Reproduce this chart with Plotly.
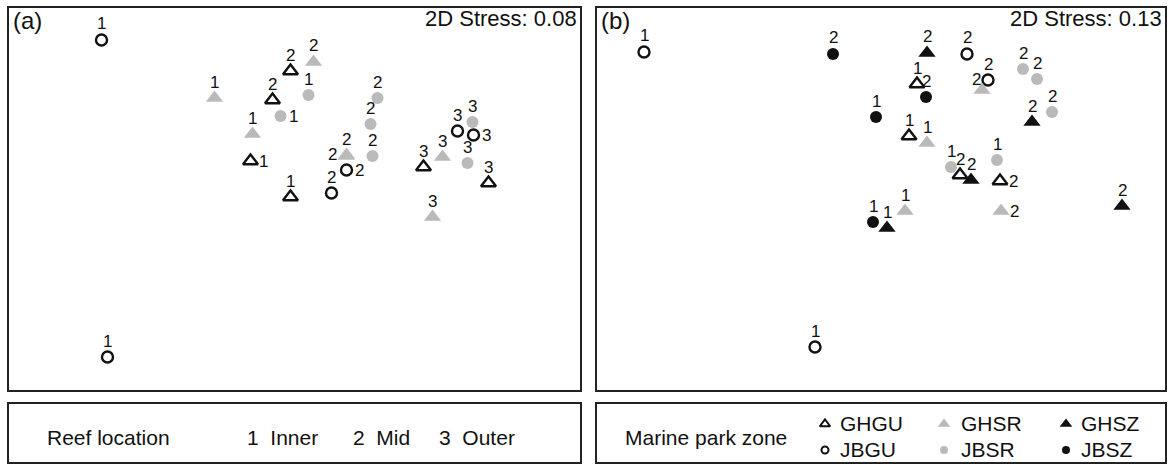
import plotly.graph_objects as go

# ---- nMDS ordination coordinates, panel (a): reef location ----
a_zone = ["JBGU", "JBGU", "GHSR", "GHGU", "GHGU", "JBSR", "GHSR", "GHGU", "GHGU",
          "GHSR", "JBSR", "JBSR", "JBSR", "JBSR", "GHSR", "GHSR", "JBGU", "JBGU",
          "JBSR", "JBGU", "JBGU", "GHSR", "JBSR", "GHGU", "GHGU", "GHSR"]
a_label = ["1", "1", "1", "2", "2", "1", "1", "1", "1",
           "2", "1", "2", "2", "2", "2", "2", "2", "2",
           "3", "3", "3", "3", "3", "3", "3", "3"]
a_x = [-1.93, -1.87, -0.80, -0.04, -0.22, -0.14, -0.42, -0.44, -0.04,
       0.19, 0.14, 0.83, 0.76, 0.78, 0.52, 0.52, 0.52, 0.37,
       1.78, 1.63, 1.79, 1.48, 1.73, 1.29, 1.94, 1.38]
a_y = [1.59, -1.58, 1.01, 1.28, 0.99, 0.83, 0.65, 0.38, 0.02,
       1.37, 1.04, 1.01, 0.75, 0.43, 0.44, 0.43, 0.29, 0.06,
       0.77, 0.68, 0.64, 0.42, 0.36, 0.32, 0.16, -0.18]
a_labelpos = ["top", "top", "top", "top", "top", "right", "top", "right", "top",
              "top", "top", "top", "top", "top", "top", "left", "right", "top",
              "top", "top", "right", "top", "top", "top", "top", "top"]
a_stress = 0.08

# ---- nMDS ordination coordinates, panel (b): marine park zone ----
b_zone = ["JBGU", "JBSZ", "GHSZ", "JBGU", "GHGU", "JBSZ", "JBGU", "GHSR", "JBSR",
          "JBSR", "JBSR", "GHSZ", "JBSZ", "GHGU", "GHSR", "JBSR", "JBSR", "GHGU",
          "GHSZ", "GHGU", "GHSR", "GHSZ", "GHSR", "JBSZ", "GHSZ", "JBGU"]
b_label = ["1", "2", "2", "2", "1", "2", "2", "2", "2",
           "2", "2", "2", "1", "1", "1", "1", "1", "2",
           "2", "2", "2", "2", "1", "1", "1", "1"]
b_x = [-2.37, -0.48, 0.46, 0.86, 0.36, 0.45, 1.07, 1.01, 1.42,
       1.56, 1.71, 1.51, -0.05, 0.28, 0.46, 1.16, 0.70, 0.79,
       0.90, 1.19, 1.20, 2.41, 0.24, -0.08, 0.06, -0.66]
b_y = [1.47, 1.45, 1.46, 1.45, 1.15, 1.02, 1.19, 1.09, 1.30,
       1.20, 0.87, 0.77, 0.82, 0.63, 0.56, 0.39, 0.32, 0.24,
       0.19, 0.18, -0.12, -0.07, -0.12, -0.23, -0.29, -1.48]
b_labelpos = ["top", "top", "top", "top", "top", "top", "top", "topleft", "top",
              "top", "top", "top", "top", "top", "top", "top", "top", "top",
              "top", "right", "right", "top", "top", "top", "top", "top"]
b_stress = 0.13

reef_names = ["Inner", "Mid", "Outer"]
zone_rows = [["GHGU", "GHSR", "GHSZ"], ["JBGU", "JBSR", "JBSZ"]]

# ---- styling ----
FONT = "Liberation Sans, Arial, sans-serif"
GREY = "#bababa"
INK = "#111111"
W, H = 1170, 464

zone_style = {
    "GHGU": dict(symbol="triangle-up-open", color=INK, size=13, lw=2.4),
    "JBGU": dict(symbol="circle-open", color=INK, size=11, lw=2.4),
    "GHSR": dict(symbol="triangle-up", color=GREY, size=15, lw=0),
    "JBSR": dict(symbol="circle", color=GREY, size=12, lw=0),
    "GHSZ": dict(symbol="triangle-up", color=INK, size=15, lw=0),
    "JBSZ": dict(symbol="circle", color=INK, size=12, lw=0),
}

# label offsets (pixels) relative to the marker centre
label_shift = {"top": (0, 16), "right": (13, 0), "left": (-14, 2), "topleft": (-6, 11)}

# pixel frame of each panel (left, top, right, bottom)
panel_a = (8, 7, 581, 391)
panel_b = (596, 7, 1166, 391)
leg_a = (8, 403, 581, 463)
leg_b = (596, 403, 1166, 463)


def px(x):
    return x / W


def py(y):
    return 1 - y / H


fig = go.Figure()
ann = []


def add_panel(zones, labels, xs, ys, lpos, xa, ya):
    for z in zone_style:
        idx = [i for i, zz in enumerate(zones) if zz == z]
        if not idx:
            continue
        st = zone_style[z]
        fig.add_trace(go.Scatter(
            x=[xs[i] for i in idx], y=[ys[i] for i in idx],
            mode="markers",
            marker=dict(symbol=st["symbol"], size=st["size"], color=st["color"],
                        line=dict(width=st["lw"], color=st["color"])),
            xaxis=xa, yaxis=ya, showlegend=False, hoverinfo="skip", cliponaxis=False,
        ))
    # reef-location number beside every sample
    for xv, yv, lab, pos in zip(xs, ys, labels, lpos):
        dx, dy = label_shift[pos]
        ann.append(dict(x=xv, y=yv, xref=xa, yref=ya, text=lab, showarrow=False,
                        xanchor="center", yanchor="middle", xshift=dx, yshift=dy,
                        font=dict(family=FONT, size=17, color=INK)))


add_panel(a_zone, a_label, a_x, a_y, a_labelpos, "x", "y")
add_panel(b_zone, b_label, b_x, b_y, b_labelpos, "x2", "y2")

# legend symbols for the marine park zones, drawn on a pixel-space overlay axis
sym_cols = [825, 944, 1066]
sym_rows = [424, 450]
for r, row in enumerate(zone_rows):
    for c, z in enumerate(row):
        st = zone_style[z]
        fig.add_trace(go.Scatter(
            x=[sym_cols[c]], y=[sym_rows[r]], mode="markers",
            marker=dict(symbol=st["symbol"], size=st["size"] - 4, color=st["color"],
                        line=dict(width=min(st["lw"], 2), color=st["color"])),
            xaxis="x3", yaxis="y3", showlegend=False, hoverinfo="skip",
        ))

shapes = []
for (l, t, r, b) in (panel_a, panel_b, leg_a, leg_b):
    shapes.append(dict(type="rect", xref="paper", yref="paper",
                       x0=px(l), x1=px(r), y0=py(b), y1=py(t),
                       line=dict(color="#222222", width=2), fillcolor="rgba(0,0,0,0)"))


def text(x, y, s, size, anchor="left"):
    ann.append(dict(xref="paper", yref="paper", x=px(x), y=py(y), text=s,
                    showarrow=False, xanchor=anchor, yanchor="middle",
                    font=dict(family=FONT, size=size, color=INK)))


text(11, 21, "(a)", 24)
text(599, 21, "(b)", 24)
text(579, 19, f"2D Stress: {a_stress:.2f}", 22, "right")
text(1164, 19, f"2D Stress: {b_stress:.2f}", 22, "right")

text(108, 437, "Reef location", 21, "center")
for i, (xx, name) in enumerate(zip([245, 351, 437], reef_names)):
    text(xx, 437, f"{i + 1}&nbsp;&nbsp;{name}", 21)

text(706, 437, "Marine park zone", 21, "center")
txt_cols = [838, 959, 1079]
for r, row in enumerate(zone_rows):
    for c, z in enumerate(row):
        text(txt_cols[c], sym_rows[r] - 1, z, 21)


def dom_x(p):
    return [px(p[0]), px(p[2])]


def dom_y(p):
    return [py(p[3]), py(p[1])]


hidden = dict(showgrid=False, zeroline=False, showticklabels=False, ticks="",
              showline=False, fixedrange=True)

fig.update_layout(
    width=W, height=H, margin=dict(l=0, r=0, t=0, b=0),
    paper_bgcolor="white", plot_bgcolor="rgba(0,0,0,0)",
    xaxis=dict(domain=dom_x(panel_a), range=[-2.865, 2.865], **hidden),
    yaxis=dict(domain=dom_y(panel_a), range=[-1.92, 1.92], **hidden),
    xaxis2=dict(domain=dom_x(panel_b), range=[-2.85, 2.85], anchor="y2", **hidden),
    yaxis2=dict(domain=dom_y(panel_b), range=[-1.92, 1.92], anchor="x2", **hidden),
    xaxis3=dict(domain=[0, 1], range=[0, W], anchor="y3", **hidden),
    yaxis3=dict(domain=[0, 1], range=[H, 0], anchor="x3", **hidden),
    shapes=shapes, annotations=ann,
)

fig.write_html("out.html")
